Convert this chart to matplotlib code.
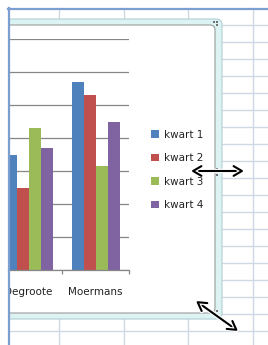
import numpy as np
import matplotlib
matplotlib.use('Agg')
import matplotlib.pyplot as plt
from matplotlib.patches import FancyBboxPatch, Rectangle
import matplotlib.patheffects as pe

categories = ['Degroote', 'Moermans']
series = ['kwart 1', 'kwart 2', 'kwart 3', 'kwart 4']
kwart1 = [35, 57]
kwart2 = [25, 53]
kwart3 = [43, 31.5]
kwart4 = [37, 45]
yticks = [0, 10, 20, 30, 40, 50, 60, 70]

colors = ['#4F81BD', '#C0504D', '#9BBB59', '#8064A2']
W, H = 268.0, 345.0

def fbox(x0, y0, x1, y1):
    # pixel box -> figure fraction [left, bottom, width, height]
    return [x0 / W, 1 - y1 / H, (x1 - x0) / W, (y1 - y0) / H]

fig = plt.figure(figsize=(2.68, 3.45), dpi=100)
fig.patch.set_facecolor('white')

############ spreadsheet background ############
bg = fig.add_axes(fbox(8, 0, W, H), zorder=0)
bg.set_xlim(8, W)
bg.set_ylim(H, 0)
bg.axis('off')
for yy in np.arange(25, H, 17):
    bg.plot([8, W], [yy, yy], color='#D0D7E5', lw=1, zorder=1)
for xx in [59, 124, 188, 253]:
    bg.plot([xx, xx], [8, H], color='#D0D7E5', lw=1, zorder=1)

# selection frame and chart area
frame = FancyBboxPatch((-20, 19), 242, 300, boxstyle='round,pad=0,rounding_size=6',
                       fc='#DDF2F2', ec='#AFD0D6', lw=0.8, zorder=2)
bg.add_patch(frame)
chart = FancyBboxPatch((-20, 25), 235, 288, boxstyle='round,pad=0,rounding_size=5',
                       fc='white', ec='#9C9C9C', lw=0.8, zorder=3)
bg.add_patch(chart)
for (dx, dy) in [(213, 21), (216, 21), (216, 24), (216, 168), (216, 171), (216, 174),
                 (216, 310), (213, 313)]:
    bg.add_patch(Rectangle((dx, dy), 1.5, 1.5, color='#707070', lw=0, zorder=4))

############ bar chart ############
ax = fig.add_axes(fbox(8, 39, 129, 270), zorder=1)
ax.patch.set_alpha(0)
x = np.arange(len(categories))
bw = 12.0 / 67.0
for i, (name, vals) in enumerate(zip(series, [kwart1, kwart2, kwart3, kwart4])):
    ax.bar(x + (i - 1.5) * bw, vals, width=bw, color=colors[i], label=name, zorder=2)

ax.set_xlim(-0.306, 1.5)
ax.set_ylim(0, 70)
ax.set_yticks(yticks)
ax.grid(axis='y', color='#868686', lw=0.9, zorder=0)
ax.set_axisbelow(True)
for s in ['left', 'top', 'right']:
    ax.spines[s].set_visible(False)
ax.spines['bottom'].set_color('#868686')
ax.spines['bottom'].set_linewidth(0.9)
ax.tick_params(axis='y', left=False, labelleft=False)
ax.set_xticks([0.5, 1.5])
ax.set_xticklabels([])
ax.set_xticks(x, minor=True)
ax.set_xticklabels(categories, minor=True, fontsize=7.5, color='#222222')
ax.tick_params(axis='x', which='major', length=3, color='#868686', width=0.9)
ax.tick_params(axis='x', which='minor', length=0, pad=12.5)
clip = Rectangle((9 / W, 0), 1, 1, transform=fig.transFigure, visible=False)
fig.add_artist(clip)
for lbl in ax.get_xticklabels(minor=True):
    lbl.set_clip_path(clip)

handles, labels = ax.get_legend_handles_labels()
lg = fig.legend(handles, labels, loc='center left', bbox_to_anchor=(146 / W, 1 - 170 / H),
                fontsize=7.5, frameon=False, handlelength=0.75, handleheight=0.75,
                handletextpad=0.45, labelspacing=1.3, borderpad=0)
for t in lg.get_texts():
    t.set_color('#222222')

############ window border and resize cursors ############
ov = fig.add_axes([0, 0, 1, 1], zorder=3)
ov.patch.set_alpha(0)
ov.set_xlim(0, W)
ov.set_ylim(H, 0)
ov.axis('off')
ov.plot([8, W], [8.5, 8.5], color='#7A9FD0', lw=1.6)
ov.plot([8.5, 8.5], [8, H], color='#7A9FD0', lw=1.6)
for (p0, p1) in [((191, 171), (244, 171)), ((196, 301), (238, 331))]:
    ov.annotate('', xy=p1, xytext=p0,
                arrowprops=dict(arrowstyle='<->,head_length=0.6,head_width=0.35',
                                color='black', lw=1.5, shrinkA=0, shrinkB=0,
                                path_effects=[pe.Stroke(linewidth=3.2, foreground='white'),
                                              pe.Normal()]))

plt.savefig('out.png', dpi=100)
